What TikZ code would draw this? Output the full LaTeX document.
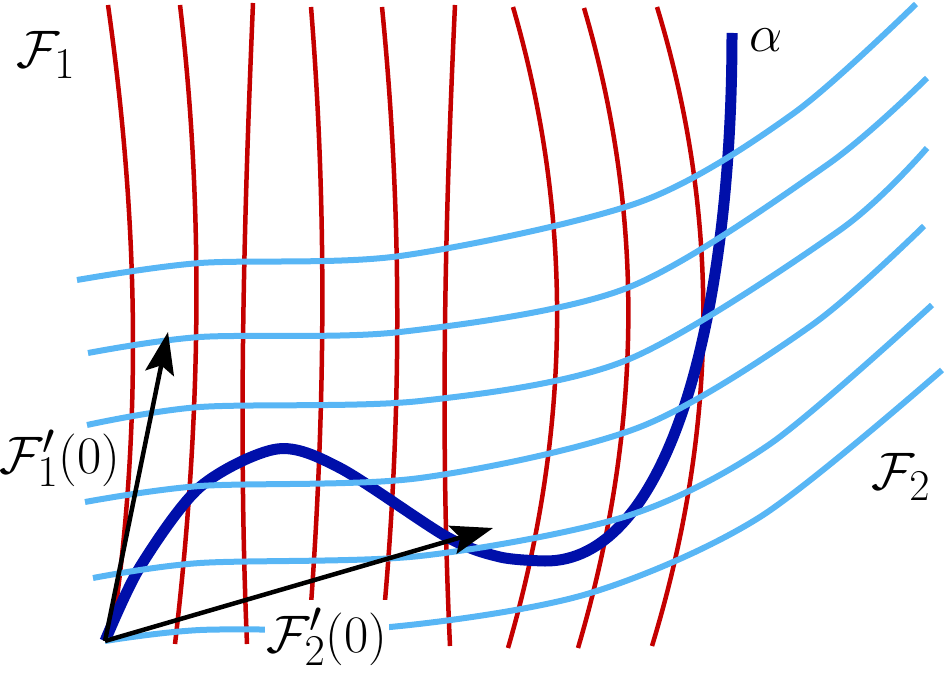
\documentclass[tikz,border=0pt]{standalone}
\usetikzlibrary{arrows.meta}
\definecolor{leafred}{RGB}{196,0,0}
\definecolor{leafblue}{RGB}{88,182,245}
\definecolor{curveblue}{RGB}{0,15,170}
\tikzset{
  redleaf/.style={draw=leafred, line width=4.5pt},
  blueleaf/.style={draw=leafblue, line width=6pt},
  alphacurve/.style={draw=curveblue, line width=11pt, line join=round},
  vec/.style={draw=black, line width=4.5pt, -{Stealth[length=42pt,width=29pt,inset=8pt]}},
  lbl/.style={font=\Huge, scale=2.12, inner sep=0pt},
}
\begin{document}
\begin{tikzpicture}[x=1pt,y=-1pt]
\useasboundingbox (0,0) rectangle (947,674);
% red leaves (F1)
\draw[redleaf] (108,5) .. controls (137,210) and (143,415) .. (114,620);
\draw[redleaf] (180,5) .. controls (205,218) and (200,431) .. (175,644);
\draw[redleaf] (253,3) .. controls (244,217) and (238,430) .. (247,644);
\draw[redleaf] (311,7) .. controls (328,219) and (325,432) .. (308,644);
\draw[redleaf] (382,7) .. controls (403,219) and (402,432) .. (381,644);
\draw[redleaf] (455,5) .. controls (445,219) and (440,432) .. (450,646);
\draw[redleaf] (513,7) .. controls (575,220) and (570,435) .. (508,648);
\draw[redleaf] (584,8) .. controls (647,221) and (641,435) .. (578,648);
\draw[redleaf] (657,7) .. controls (722,220) and (717,433) .. (652,646);
% curve alpha
\coordinate (O) at (105,641);
\coordinate (atop) at (732,33);
\draw[alphacurve] plot[smooth] coordinates {(O) (140,567) (200,487) (277,449) (340,468) (447,537) (500,557) (545,561)}
  .. controls (665,562) and (732,330) .. (atop);
% blue leaves (F2)
\draw[blueleaf] plot[smooth] coordinates {(77,280) (200,263) (400,256) (640,202) (794,113) (916,4)};
\draw[blueleaf] plot[smooth] coordinates {(88,353) (200,337) (400,332) (627,288) (827,165) (927,78)};
\draw[blueleaf] plot[smooth] coordinates {(87,425) (200,407) (420,401) (627,360) (840,230) (927,148)};
\draw[blueleaf] plot[smooth] coordinates {(85,502) (200,486) (420,478) (640,427) (812,325) (924,226)};
\draw[blueleaf] plot[smooth] coordinates {(93,578) (200,563) (420,556) (627,516) (770,444) (932,305)};
\draw[blueleaf] plot[smooth] coordinates {(O) (200,630) (390,627) (587,594) (760,517) (942,370)};
% labels
\node[lbl] (F1) at (46,55) {$\mathcal{F}_1$};
\node[lbl] (F2) at (901,477) {$\mathcal{F}_2$};
\node[lbl] (al) at (766,40) {$\alpha$};
\node[lbl] (F1p) at (60,458) {$\mathcal{F}_1'(0)$};
\node[lbl, fill=white, inner xsep=1pt, inner ysep=3.8pt, anchor=base] (F2p) at (327,652) {$\mathcal{F}_2'(0)$};
% tangent vectors
\coordinate (T1) at (168,332);
\coordinate (T2) at (493,528);
\draw[vec] (O) -- (T1);
\draw[vec] (O) -- (T2);
\end{tikzpicture}
\end{document}
